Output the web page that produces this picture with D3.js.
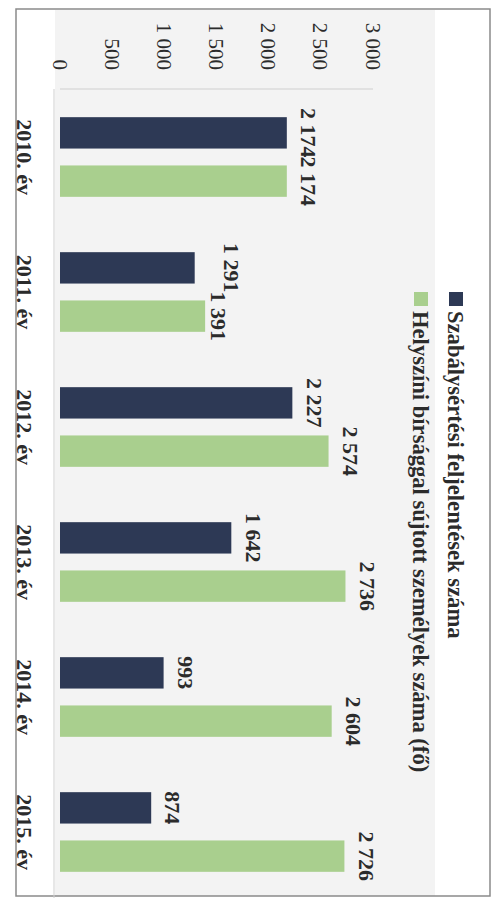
<!DOCTYPE html>
<html><head><meta charset="utf-8">
<script src="https://cdn.jsdelivr.net/npm/d3@7"></script>
<style>html,body{margin:0;padding:0;background:#fff;}svg{display:block;}</style>
</head><body>
<svg id="c" width="500" height="898"></svg>
<script>
const categories = ["2010. év","2011. év","2012. év","2013. év","2014. év","2015. év"];
const seriesNames = ["Szabálysértési feljelentések száma","Helyszíni bírsággal sújtott személyek száma (fő)"];
const reports = [2174, 1291, 2227, 1642, 993, 874];
const fined = [2174, 1391, 2574, 2736, 2604, 2726];
const tickValues = [0, 500, 1000, 1500, 2000, 2500, 3000];
const tickLabels = ["0","500","1 000","1 500","2 000","2 500","3 000"];
const colors = ["#2d3955", "#a9cf8e"];

const svg = d3.select("#c");
const serif = "'Liberation Serif','DejaVu Serif',serif";
const txt = "#2b2b2b";

// faint scanned background
svg.append("rect").attr("x",55).attr("y",10).attr("width",380).attr("height",886).attr("fill","#f3f3f3");

// frame
svg.append("rect").attr("x",16).attr("y",9).attr("width",474).attr("height",887)
  .attr("fill","none").attr("stroke","#8a8a8a").attr("stroke-width",1.5);

const x = d3.scaleLinear().domain([0,3000]).range([60,373]);
const y = d3.scaleBand().domain(categories).range([89.5,899.5]).paddingInner(0.41).paddingOuter(0.205);
const ys = d3.scaleBand().domain([0,1]).range([0,y.bandwidth()]).paddingInner(0.35);

// plot area lines
svg.append("line").attr("x1",x(0)).attr("x2",x(3000)).attr("y1",89).attr("y2",89).attr("stroke","#cfcfcf");
svg.append("line").attr("x1",x(0)-6).attr("x2",x(0)-6).attr("y1",89).attr("y2",898).attr("stroke","#cfcfcf");

// value axis tick labels
svg.selectAll("text.tick").data(tickValues).enter().append("text")
  .attr("class","tick")
  .attr("transform",d=>`translate(${x(d)},70) rotate(90)`)
  .attr("text-anchor","end").attr("dy","0.35em")
  .attr("font-family",serif).attr("font-size",21).attr("fill",txt)
  .text((d,i)=>tickLabels[i]);

// category labels
svg.selectAll("text.cat").data(categories).enter().append("text")
  .attr("class","cat")
  .attr("transform",d=>`translate(25,${y(d)+y.bandwidth()/2}) rotate(90)`)
  .attr("text-anchor","middle").attr("dy","0.35em")
  .attr("font-family",serif).attr("font-weight","bold").attr("font-size",22).attr("fill",txt)
  .text(d=>d);

const fmt = d=>d3.format(",")(d).replace(/,/g," ");
const series = [reports, fined];
series.forEach((vals,si)=>{
  const g = svg.append("g");
  g.selectAll("rect").data(vals).enter().append("rect")
    .attr("x",x(0))
    .attr("y",(d,i)=>y(categories[i])+ys(si))
    .attr("width",d=>x(d)-x(0))
    .attr("height",ys.bandwidth())
    .attr("fill",colors[si]);
});

// value labels with simple collision handling inside each category
categories.forEach((c,i)=>{
  const v = [reports[i], fined[i]];
  let pos = v.map(d=>x(d)+22);
  // if labels nearly touch end-to-end but are slightly staggered, push the first one outward
  if (Math.abs(pos[0]-pos[1]) > 2 && Math.abs(pos[0]-pos[1]) < 16) {
    const m = Math.max(pos[0],pos[1]);
    pos = [m + 5, m - 8];
  }
  v.forEach((d,si)=>{
    svg.append("text")
      .attr("transform",`translate(${pos[si]},${y(c)+ys(si)+ys.bandwidth()/2}) rotate(90)`)
      .attr("text-anchor","middle").attr("dy","0.35em")
      .attr("font-family",serif).attr("font-weight","bold").attr("font-size",22).attr("fill",txt)
      .text(fmt(d));
  });
});

// legend
const legX = [456, 421];
seriesNames.forEach((n,i)=>{
  svg.append("rect").attr("x",legX[i]-7).attr("y",292).attr("width",14).attr("height",14).attr("fill",colors[i]);
  svg.append("text")
    .attr("transform",`translate(${legX[i]},311) rotate(90)`)
    .attr("text-anchor","start").attr("dy","0.35em")
    .attr("font-family",serif).attr("font-weight","bold").attr("font-size",22.6).attr("fill",txt)
    .text(n);
});
</script>
</body></html>
